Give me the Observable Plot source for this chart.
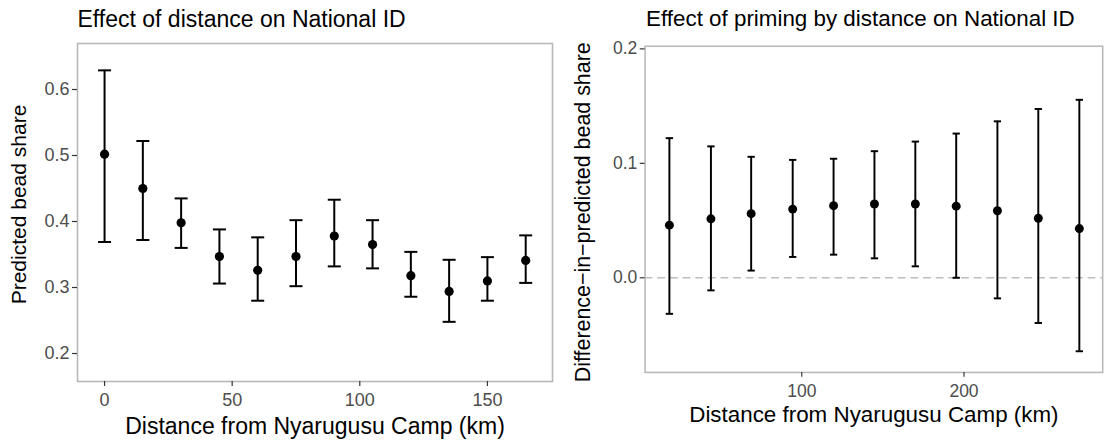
<!DOCTYPE html>
<html>
<head>
<meta charset="utf-8">
<script src="https://cdn.jsdelivr.net/npm/d3@7"></script>
<script src="https://cdn.jsdelivr.net/npm/@observablehq/plot@0.6"></script>
<style>
  html, body { margin: 0; padding: 0; background: #ffffff; }
  #wrap { position: relative; width: 1110px; height: 441px; overflow: hidden; background: #fff; }
  .panel { position: absolute; top: 0; height: 441px; overflow: hidden; }
  svg { font-family: "Liberation Sans", Arial, Helvetica, sans-serif; }
</style>
</head>
<body>
<div id="wrap">
  <div class="panel" id="left" style="left:0px;width:555px;"></div>
  <div class="panel" id="right" style="left:555px;width:555px;"></div>
</div>
<script>
// ---- Left panel data: Effect of distance on National ID ----
const distLeft  = [0, 15, 30, 45, 60, 75, 90, 105, 120, 135, 150, 165];
const shareLeft = [0.502, 0.450, 0.398, 0.347, 0.326, 0.347, 0.378, 0.365, 0.318, 0.294, 0.310, 0.341];
const loLeft    = [0.369, 0.372, 0.360, 0.306, 0.280, 0.302, 0.332, 0.329, 0.286, 0.248, 0.280, 0.307];
const hiLeft    = [0.629, 0.522, 0.435, 0.388, 0.376, 0.402, 0.433, 0.402, 0.354, 0.342, 0.346, 0.379];
const xTicksLeft = [0, 50, 100, 150];
const yTicksLeft = [0.2, 0.3, 0.4, 0.5, 0.6];

// ---- Right panel data: Effect of priming by distance on National ID ----
const distRight = [18.4, 44.0, 68.8, 94.4, 119.6, 144.8, 170.0, 195.2, 220.6, 245.8, 271.1];
const diffRight = [0.0460, 0.0515, 0.0560, 0.0600, 0.0630, 0.0645, 0.0645, 0.0626, 0.0586, 0.0520, 0.0430];
const loRight   = [-0.0315, -0.0110, 0.0063, 0.0182, 0.0202, 0.0170, 0.0100, 0.0000, -0.0180, -0.0395, -0.0642];
const hiRight   = [0.1220, 0.1148, 0.1057, 0.1030, 0.1040, 0.1106, 0.1190, 0.1260, 0.1367, 0.1475, 0.1555];
const xTicksRight = [100, 200];
const yTicksRight = [0.0, 0.1, 0.2];

const titleLeft = "Effect of distance on National ID";
const titleRight = "Effect of priming by distance on National ID";
const xLabel = "Distance from Nyarugusu Camp (km)";
const yLabelLeft = "Predicted bead share";
const yLabelRight = "Difference\u2212in\u2212predicted bead share";

const leftData = distLeft.map((x, i) => ({x, y: shareLeft[i], lo: loLeft[i], hi: hiLeft[i]}));
const rightData = distRight.map((x, i) => ({x, y: diffRight[i], lo: loRight[i], hi: hiRight[i]}));

function capSymbol(w) {
  return { draw(ctx) { ctx.moveTo(-w / 2, 0); ctx.lineTo(w / 2, 0); } };
}

const FONT = "Liberation Sans, Arial, Helvetica, sans-serif";
const fmt = d3.format(".1f");

function panel(o) {
  return Plot.plot({
    width: o.width, height: 441,
    marginLeft: o.ml, marginRight: o.mr, marginTop: o.mt, marginBottom: o.mb,
    style: { fontFamily: FONT, background: "transparent", overflow: "visible" },
    x: { domain: o.xDomain, axis: null },
    y: { domain: o.yDomain, axis: null },
    marks: [
      Plot.frame({ stroke: "#b8b8b8", strokeWidth: 1.6 }),
      ...(o.zero ? [Plot.ruleY([0], { stroke: "#bdbdbd", strokeWidth: 1.6, strokeDasharray: "8,5" })] : []),
      Plot.axisX({ ticks: o.xTicks, tickSize: 5, tickPadding: 7, fontSize: 18, fill: "#4d4d4d", stroke: "#333333", strokeWidth: 1.2, label: null, tickFormat: d3.format("d") }),
      Plot.axisY({ ticks: o.yTicks, tickSize: 5, tickPadding: 3, fontSize: 18, fill: "#4d4d4d", stroke: "#333333", strokeWidth: 1.2, label: null, tickFormat: fmt }),
      Plot.ruleX(o.data, { x: "x", y1: "lo", y2: "hi", stroke: "#000", strokeWidth: 2 }),
      Plot.dot(o.data, { x: "x", y: "hi", symbol: capSymbol(o.cap), stroke: "#000", strokeWidth: 2, fill: "none" }),
      Plot.dot(o.data, { x: "x", y: "lo", symbol: capSymbol(o.cap), stroke: "#000", strokeWidth: 2, fill: "none" }),
      Plot.dot(o.data, { x: "x", y: "y", r: 4.6, fill: "#000", stroke: "none" }),
      Plot.text([o.title], { frameAnchor: "top-left", textAnchor: "start", lineAnchor: "bottom", dx: o.titleDx, dy: o.titleDy, fontSize: 23, fill: "#000" }),
      Plot.text([xLabel], { frameAnchor: "bottom", textAnchor: "middle", lineAnchor: "bottom", dy: o.xlabDy, fontSize: 23, fill: "#000" }),
      Plot.text([o.yLabel], { frameAnchor: "left", textAnchor: "middle", lineAnchor: "bottom", rotate: -90, dx: o.ylabDx, dy: o.ylabDy, fontSize: o.ylabSize, fill: "#000" })
    ]
  });
}

document.getElementById("left").appendChild(panel({
  width: 555, ml: 77, mr: 3, mt: 43, mb: 60,
  xDomain: [-10.6, 175.5], yDomain: [0.1576, 0.6697],
  xTicks: xTicksLeft, yTicks: yTicksLeft, data: leftData, cap: 13, zero: false,
  title: titleLeft, titleDx: 0, titleDy: -17, xlabDy: 52,
  yLabel: yLabelLeft, ylabDx: -52, ylabDy: -8, ylabSize: 21
}));

document.getElementById("right").appendChild(panel({
  width: 570, ml: 92, mr: 8, mt: 47, mb: 59,
  xDomain: [3.4, 285.5], yDomain: [-0.0827, 0.2023],
  xTicks: xTicksRight, yTicks: yTicksRight, data: rightData, cap: 7.5, zero: true,
  title: titleRight, titleDx: 1, titleDy: -21, xlabDy: 51,
  yLabel: yLabelRight, ylabDx: -57, ylabDy: 3, ylabSize: 22
}));
</script>
</body>
</html>
